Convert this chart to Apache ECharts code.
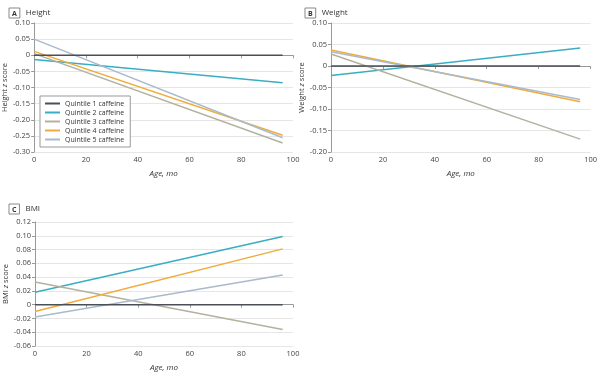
<!DOCTYPE html>
<html><head><meta charset="utf-8">
<script src="https://cdn.jsdelivr.net/npm/echarts@6/dist/echarts.min.js"></script>
<style>html,body{margin:0;padding:0;background:#fff}#c{width:600px;height:373px}</style>
</head><body><div id="c"></div>
<script>
const names = ['Quintile 1 caffeine','Quintile 2 caffeine','Quintile 3 caffeine','Quintile 4 caffeine','Quintile 5 caffeine'];
const colors = ['#4b5057','#39aec2','#b3b19f','#f0ab3a','#a9bacd'];
const ageStart = 0, ageEnd = 96;
// [start, end] z-scores per quintile
const heightVals = [[0,0],[-0.013,-0.085],[0.005,-0.272],[0.012,-0.248],[0.05,-0.256]];
const weightVals = [[0,0],[-0.022,0.042],[0.028,-0.17],[0.037,-0.083],[0.033,-0.078]];
const bmiVals = [[0,0],[0.018,0.099],[0.033,-0.036],[-0.01,0.081],[-0.018,0.043]];
const xTicks = [0,20,40,60,80,100];

const chart = echarts.init(document.getElementById('c'));
const grids = [
  {left:34, top:23, width:259, height:129},
  {left:331, top:23, width:262, height:129},
  {left:35, top:222, width:258, height:125}
];
const yCfg = [
  {min:-0.30,max:0.10,interval:0.05,name:'Height'},
  {min:-0.20,max:0.10,interval:0.05,name:'Weight'},
  {min:-0.06,max:0.12,interval:0.02,name:'BMI'}
];
const fmt = v => Math.abs(v)<1e-9 ? '0' : v.toFixed(2);
const font = 'Open Sans';
const xAxes = grids.map((g,i)=>({
  gridIndex:i, type:'value', min:0, max:100, interval:20,
  name:'Age, mo', nameLocation:'middle', nameGap:18,
  nameTextStyle:{fontSize:8, color:'#333', fontStyle:'italic', fontFamily:font},
  axisLine:{lineStyle:{color:'#999'}}, axisTick:{length:3,lineStyle:{color:'#999'}},
  axisLabel:{fontSize:7.5, color:'#444', margin:4, fontFamily:font},
  splitLine:{show:false}
}));
const yAxes = yCfg.map((c,i)=>({
  gridIndex:i, type:'value', min:c.min, max:c.max, interval:c.interval,
  name:'{n|'+c.name+' }{i|z}{n| score}', nameLocation:'middle', nameGap:24, nameRotate:90,
  nameTextStyle:{rich:{n:{fontSize:7.5,color:'#333',fontFamily:font},i:{fontSize:7.5,color:'#333',fontStyle:'italic',fontFamily:font}}},
  axisLine:{show:true,lineStyle:{color:'#999'}}, axisTick:{show:true,length:3,lineStyle:{color:'#999'}},
  axisLabel:{fontSize:7.5, color:'#444', margin:4, formatter:fmt, fontFamily:font},
  splitLine:{show:true,lineStyle:{color:'#e6e6e6',width:1}}
}));
const sets = [heightVals, weightVals, bmiVals];
const series = [];
sets.forEach((vals,gi)=>{
  vals.forEach((v,k)=>{
    series.push({
      type:'line', name:names[k], xAxisIndex:gi, yAxisIndex:gi,
      data:[[ageStart,v[0]],[ageEnd,v[1]]], symbol:'none', silent:true,
      lineStyle:{color:colors[k], width:1.5}, itemStyle:{color:colors[k]},
      z: k===0 ? 10 : 2+k
    });
  });
});
const titles = [['A','Height',4,3],['B','Weight',300,3],['C','BMI',4,199]].map(t=>({
  text:'{b|'+t[0]+'}{t|'+t[1]+'}', left:t[2], top:t[3],
  textStyle:{fontWeight:'normal', rich:{
    b:{fontSize:7,fontWeight:'bold',color:'#333',borderColor:'#888',borderWidth:1,padding:[2,3,1,3],fontFamily:font},
    t:{fontSize:8,fontWeight:'normal',color:'#333',padding:[0,0,0,6],fontFamily:font}
  }}
}));
chart.setOption({
  animation:false,
  title:titles,
  grid:grids,
  xAxis:xAxes,
  yAxis:yAxes,
  legend:{
    data:names, orient:'vertical', left:40, top:96, itemGap:2,
    itemWidth:15, itemHeight:2, icon:'rect',
    backgroundColor:'#fff', borderColor:'#999', borderWidth:1, padding:[4,6,4,5],
    textStyle:{fontSize:7, color:'#333', fontFamily:font}
  },
  series:series
});
</script></body></html>
